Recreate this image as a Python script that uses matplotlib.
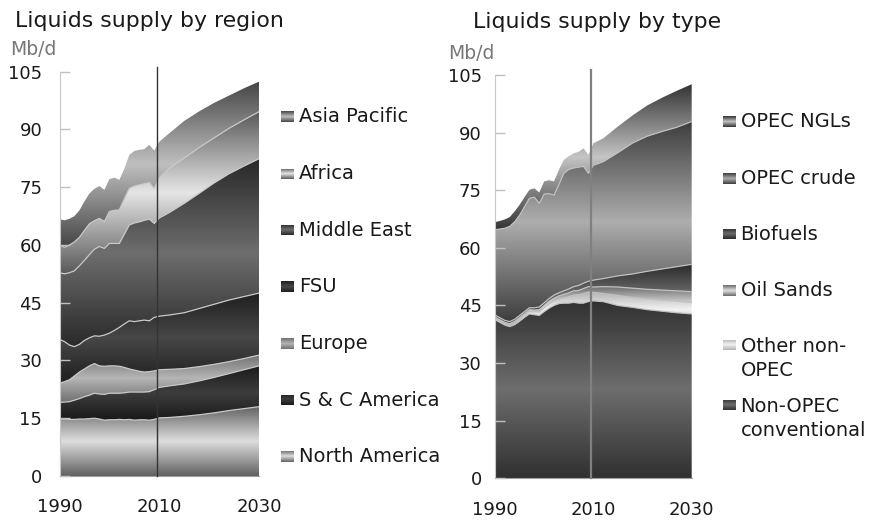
import numpy as np
import matplotlib
matplotlib.use('Agg')
import matplotlib.pyplot as plt
from matplotlib.path import Path
from matplotlib.patches import PathPatch

# ---------------- data ----------------
years = list(range(1990, 2011)) + [2012, 2015, 2018, 2021, 2024, 2027, 2030]

# Left: liquids supply by region (Mb/d), bottom -> top
north_america = [14.8, 14.8, 14.7, 14.7, 14.8, 14.8, 14.9, 15.0, 14.8, 14.5, 14.6, 14.6, 14.7, 14.6,
                 14.7, 14.5, 14.6, 14.6, 14.5, 14.7, 15.1, 15.2, 15.5, 15.9, 16.4, 17.0, 17.5, 18.0]
sc_america = [4.3, 4.4, 4.6, 5.0, 5.3, 5.8, 6.1, 6.5, 6.5, 6.7, 6.9, 6.9, 6.8, 7.0,
              7.1, 7.3, 7.2, 7.2, 7.4, 7.7, 7.9, 8.2, 8.4, 8.8, 9.2, 9.6, 10.1, 10.6]
europe = [5.0, 5.3, 5.7, 6.3, 6.9, 7.2, 7.6, 7.7, 7.3, 7.3, 7.1, 7.1, 7.0, 6.6,
          6.0, 5.7, 5.4, 5.2, 5.2, 4.9, 4.6, 4.3, 4.0, 3.7, 3.4, 3.1, 2.9, 2.8]
fsu = [11.4, 10.4, 9.0, 7.6, 7.2, 7.4, 7.3, 7.2, 7.7, 8.1, 8.5, 9.2, 10.1, 11.3,
       12.5, 12.6, 13.1, 13.5, 13.2, 13.9, 13.9, 14.1, 14.5, 15.1, 15.6, 16.0, 16.1, 16.1]
middle_east = [17.3, 17.6, 18.8, 19.7, 20.4, 20.8, 21.6, 22.5, 23.3, 22.5, 23.3, 22.6, 21.8, 23.3,
               24.9, 25.6, 25.7, 25.9, 26.4, 24.4, 25.5, 26.6, 28.4, 29.9, 31.5, 32.8, 33.9, 34.9]
africa = [7.2, 6.9, 7.2, 7.5, 7.4, 7.8, 8.0, 7.4, 7.3, 7.0, 8.3, 8.6, 8.7, 9.2,
          9.5, 9.6, 9.6, 9.5, 9.5, 9.1, 10.5, 11.5, 11.8, 11.9, 11.7, 11.8, 12.0, 12.2]
asia_pacific = [6.7, 7.0, 6.8, 6.7, 7.0, 7.5, 7.9, 8.3, 8.4, 8.2, 8.4, 8.5, 7.8, 7.8,
                8.7, 9.1, 9.1, 9.0, 9.8, 9.8, 9.3, 9.1, 9.6, 9.4, 9.1, 8.5, 8.2, 7.8]
region_names = ["North America", "S & C America", "Europe", "FSU", "Middle East", "Africa", "Asia Pacific"]

# Right: liquids supply by type (Mb/d), bottom -> top
non_opec_conv = [41.3, 40.6, 39.9, 39.5, 40.0, 40.9, 41.9, 42.8, 42.6, 42.4, 43.4, 44.3, 45.0, 45.5,
                 45.6, 45.6, 45.8, 45.6, 45.6, 46.0, 46.2, 46.0, 45.0, 44.5, 43.9, 43.5, 43.1, 42.8]
other_non_opec = [0.4, 0.4, 0.4, 0.5, 0.5, 0.6, 0.6, 0.6, 0.7, 0.9, 1.0, 1.1, 1.2, 1.2,
                  1.4, 1.7, 1.9, 2.2, 2.5, 2.5, 2.2, 2.1, 2.6, 2.6, 2.8, 2.9, 3.0, 3.0]
oil_sands = [0.3, 0.3, 0.3, 0.3, 0.4, 0.4, 0.4, 0.5, 0.5, 0.6, 0.6, 0.7, 0.7, 0.8,
             0.9, 1.0, 1.1, 1.1, 1.3, 1.4, 1.4, 1.8, 2.2, 2.4, 2.5, 2.6, 2.7, 2.8]
biofuels = [0.5, 0.5, 0.5, 0.5, 0.5, 0.5, 0.5, 0.5, 0.6, 0.7, 0.7, 0.7, 0.8, 0.8,
            0.9, 1.0, 1.1, 1.3, 1.4, 1.4, 1.8, 2.1, 2.9, 3.7, 4.7, 5.5, 6.3, 7.1]
opec_crude = [22.2, 23.1, 24.0, 24.8, 25.4, 26.1, 27.3, 28.5, 28.8, 27.0, 28.3, 27.3, 26.0, 28.2,
              30.6, 31.1, 30.9, 30.8, 30.4, 28.1, 29.9, 30.4, 32.1, 34.1, 35.2, 35.8, 36.3, 37.2]
opec_ngls = [2.0, 2.1, 2.3, 2.4, 2.7, 2.7, 2.5, 2.2, 2.3, 2.8, 3.3, 3.5, 3.6, 3.8,
             3.5, 3.5, 3.8, 4.0, 4.7, 4.8, 5.7, 6.1, 6.8, 7.2, 8.0, 8.8, 9.5, 9.7]
type_names = ["Non-OPEC\nconventional", "Other non-\nOPEC", "Oil Sands", "Biofuels", "OPEC crude", "OPEC NGLs"]

y_ticks = [0, 15, 30, 45, 60, 75, 90, 105]
x_ticks = [1990, 2010, 2030]
divider_year = 2009.5

# gradient shades (edge grey, centre grey) per series
region_shades = [(0.38, 0.87), (0.10, 0.24), (0.44, 0.71), (0.12, 0.28), (0.16, 0.43), (0.35, 0.90), (0.27, 0.75)]
type_shades = [(0.19, 0.43), (0.70, 0.95), (0.42, 0.88), (0.16, 0.42), (0.24, 0.68), (0.20, 0.77)]

# ---------------- drawing ----------------
W, H = 871, 524
plt.rcParams['font.family'] = ['DejaVu Sans']
fig = plt.figure(figsize=(W / 100, H / 100), dpi=100)
TXT = '#1a1a1a'


def gradient(edge, center, n=256):
    t = np.linspace(0, 1, n)
    v = edge + (center - edge) * (1 - np.abs(2 * t - 1))
    return np.dstack([v, v, v]).reshape(n, 1, 3)


def draw_stack(ax, xs, series, shades, linecolor):
    x = np.asarray(xs, float)
    base = np.zeros_like(x)
    for i, (vals, (e, c)) in enumerate(zip(series, shades)):
        top = base + np.asarray(vals, float)
        verts = np.concatenate([np.column_stack([x, top]),
                                np.column_stack([x[::-1], base[::-1]])])
        verts = np.vstack([verts, verts[:1]])
        patch = PathPatch(Path(verts, closed=True), facecolor='none', edgecolor='none',
                          transform=ax.transData)
        ax.add_patch(patch)
        im = ax.imshow(gradient(e, c), extent=[x[0], x[-1], base.min(), top.max()],
                       origin='lower', aspect='auto', interpolation='bilinear', zorder=1)
        im.set_clip_path(patch)
        if i < len(series) - 1:
            ax.plot(x, top, color=linecolor, lw=0.9, zorder=2)
        base = top


def px_axes(l, t, r, b):
    return fig.add_axes([l / W, 1 - b / H, (r - l) / W, (b - t) / H])


def style(ax, ypad, vcolor, vlw):
    ax.set_xlim(1990, 2030)
    ax.set_ylim(0, 105)
    ax.set_yticks(y_ticks)
    ax.set_xticks(x_ticks)
    ax.set_axisbelow(False)
    for s in ['top', 'right']:
        ax.spines[s].set_visible(False)
    ax.spines['left'].set_color('#c8c8c8')
    ax.spines['bottom'].set_color('#a0a0a0')
    ax.tick_params(axis='y', direction='in', length=7, width=1, color='#c0c0c0',
                   labelsize=13, labelcolor=TXT, pad=ypad)
    ax.tick_params(axis='x', length=0, labelsize=13, labelcolor=TXT, pad=16)
    ax.plot([divider_year, divider_year], [0, 106.3], color=vcolor, lw=vlw, zorder=3, clip_on=False)


axL = px_axes(59.5, 71.7, 259, 476)
draw_stack(axL, years, [north_america, sc_america, europe, fsu, middle_east, africa, asia_pacific],
           region_shades, '#c8c8c8')
style(axL, 12.5, '#333333', 1.0)

axR = px_axes(495, 75, 691.7, 478.3)
draw_stack(axR, years, [non_opec_conv, other_non_opec, oil_sands, biofuels, opec_crude, opec_ngls],
           type_shades, '#c0c0c0')
style(axR, 9.5, '#808080', 1.6)

# titles and units
fig.text(15 / W, 1 - 27.3 / H, "Liquids supply by region", fontsize=15.8, color=TXT, ha='left', va='baseline')
fig.text(10 / W, 1 - 55 / H, "Mb/d", fontsize=13.5, color='#777777', ha='left', va='baseline')
fig.text(473 / W, 1 - 28.5 / H, "Liquids supply by type", fontsize=15.8, color=TXT, ha='left', va='baseline')
fig.text(448 / W, 1 - 59.3 / H, "Mb/d", fontsize=13.5, color='#777777', ha='left', va='baseline')


def legend_entry(sx, tx, yc, name, shade):
    sax = px_axes(sx, yc - 5.5, sx + 12.5, yc + 5.5)
    sax.imshow(gradient(*shade, n=64), aspect='auto', interpolation='bilinear')
    sax.set_axis_off()
    fig.text(tx / W, 1 - yc / H, name, fontsize=14, color=TXT, ha='left', va='center', linespacing=1.3)


left_leg_y = [456.7, 400, 343.3, 286.7, 230, 174, 116.7]
for name, shade, yc in zip(region_names, region_shades, left_leg_y):
    legend_entry(281, 299, yc, name, shade)

right_leg_swatch_y = [405, 345, 290.7, 234, 178.3, 121.7]
right_leg_text_y = [418.5, 358.5, 290.7, 234, 178.3, 121.7]
for name, shade, sy, ty in zip(type_names, type_shades, right_leg_swatch_y, right_leg_text_y):
    sax = px_axes(722.7, sy - 5.5, 735.2, sy + 5.5)
    sax.imshow(gradient(*shade, n=64), aspect='auto', interpolation='bilinear')
    sax.set_axis_off()
    fig.text(740.5 / W, 1 - ty / H, name, fontsize=14, color=TXT, ha='left', va='center', linespacing=1.3)

fig.savefig('out.png', dpi=100)
